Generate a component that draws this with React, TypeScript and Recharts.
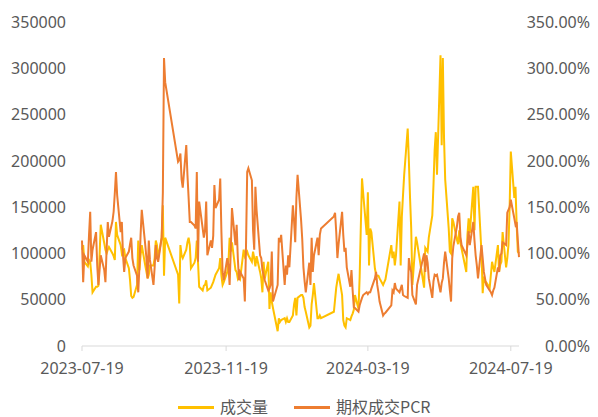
import React from 'react';
import { LineChart, Line, XAxis, YAxis, Legend } from 'recharts';

// ---- categories: trading days (weekdays minus exchange holidays) ----
const startDate = '2023-07-19';
const endDate = '2024-07-26';
const holidays = [
  '2023-09-29', '2023-10-02', '2023-10-03', '2023-10-04', '2023-10-05', '2023-10-06',
  '2024-01-01', '2024-02-09', '2024-02-12', '2024-02-13', '2024-02-14', '2024-02-15',
  '2024-02-16', '2024-04-04', '2024-04-05', '2024-05-01', '2024-05-02', '2024-05-03',
  '2024-06-10',
];
const xTickDates = ['2023-07-19', '2023-11-19', '2024-03-19', '2024-07-19'];
const volumeTicks = [0, 50000, 100000, 150000, 200000, 250000, 300000, 350000];
const pcrTicks = [0, 0.5, 1, 1.5, 2, 2.5, 3, 3.5];

// ---- series: 成交量 ----
const volume = [
  // 2023-07
  104000, 109000, 91000, 86000, 93000, 91000, 77000, 58000, 64000,
  // 2023-08
  64000, 65000, 98000, 131000, 111000, 104000, 100000, 104000, 107000, 100000, 97000, 93000,
  134000, 120000, 109000, 100000, 103000, 104000, 95000, 84000, 71000, 54000, 52000,
  // 2023-09
  53000, 66000, 114000, 82000, 98000, 109000, 87000, 80000, 73000, 77000, 87000, 87000,
  95000, 114000, 109000, 95000, 117000, 152000, 76000, 117000,
  // 2023-10
  77000, 46000, 109000, 98000, 95000, 104000, 112000, 117000, 109000, 84000, 90000, 95000,
  114000, 91000, 64000, 60000, 65000,
  // 2023-11
  66000, 71000, 60000, 63000, 66000, 69000, 73000, 77000, 84000, 95000, 76000, 66000,
  69000, 80000, 91000, 117000, 102000, 112000, 82000, 80000, 73000, 76000,
  // 2023-12
  73000, 104000, 97000, 100000, 102000, 98000, 91000, 102000, 95000, 86000, 97000, 80000,
  73000, 58000, 91000, 73000, 91000, 40000, 58000, 48000, 41000,
  // 2024-01
  16000, 30000, 26000, 28000, 30000, 26000, 30000, 26000, 26000, 33000, 45000, 52000,
  33000, 52000, 55000, 55000, 52000, 42000, 37000, 20000, 22000, 45000,
  // 2024-02
  55000, 68000, 30000, 30000, 33000, 30000, 37000, 50000, 63000, 71000, 78000, 55000,
  28000, 22000, 20000,
  // 2024-03
  30000, 28000, 32000, 35000, 39000, 55000, 40000, 75000, 130000, 181000, 165000, 120000,
  166000, 87000, 127000, 123000, 84000, 77000, 76000, 76000, 73000,
  // 2024-04
  66000, 69000, 72000, 109000, 95000, 102000, 87000, 98000, 156000, 87000, 140000, 163000,
  185000, 235000, 200000, 160000, 127000, 66000, 118000, 112000,
  // 2024-05
  63000, 106000, 104000, 102000, 117000, 141000, 174000, 212000, 231000, 185000, 314000,
  217000, 311000, 225000, 180000, 127000, 102000, 100000, 138000, 134000,
  // 2024-06
  115000, 110000, 125000, 112000, 105000, 80000, 120000, 138000, 122000, 172000, 125000,
  172000, 172000, 172000, 100000, 57000, 75000, 69000, 69000,
  // 2024-07
  63000, 77000, 91000, 85000, 80000, 109000, 80000, 88000, 91000, 123000, 85000, 95000,
  109000, 150000, 210000, 160000, 172000, 131000, 102000, 100000,
];

// ---- series: 期权成交PCR (ratio) ----
const pcr = [
  // 2023-07
  1.14, 0.69, 0.98, 0.91, 1.2, 1.45, 0.91, 1.04, 1.23,
  // 2023-08
  0.87, 0.66, 0.82, 0.98, 0.82, 0.69, 1.04, 1.34, 1.18, 1.35, 1.45, 1.65, 1.88, 1.63,
  1.23, 1.34, 0.98, 0.8, 0.95, 1.02, 1.1, 1.17, 0.95,
  // 2023-09
  0.87, 0.76, 0.58, 0.85, 1.2, 1.47, 1.09, 0.95, 0.73, 1.14, 0.93, 0.66, 0.85, 1.09,
  0.95, 0.91, 1.17, 1.65, 3.11, 2.85,
  // 2023-10
  1.99, 2.01, 2.08, 1.8, 1.71, 2.17, 1.85, 1.6, 1.34, 1.34, 1.3, 1.27, 1.88, 0.91,
  1.56, 1.27, 1.17,
  // 2023-11
  1.25, 1.56, 0.98, 1.14, 1.06, 1.19, 1.74, 1.49, 1.58, 1.81, 1.23, 0.8, 0.71, 0.95,
  0.87, 0.66, 1.04, 1.49, 1.09, 1.31, 0.95, 0.71,
  // 2023-12
  0.8, 0.73, 0.48, 1.09, 1.88, 1.92, 1.79, 1.25, 1.04, 1.72, 1.47, 0.98, 0.95, 0.82,
  0.77, 0.71, 0.6, 0.62, 0.66, 1.02, 0.48,
  // 2024-01
  0.66, 1.17, 1.12, 1.2, 0.66, 0.87, 0.77, 0.98, 0.85, 1.52, 1.35, 1.12, 1.6, 1.85,
  1.36, 1.15, 0.85, 0.7, 0.58, 0.9, 0.66, 1.17,
  // 2024-02
  0.8, 0.98, 1.17, 0.98, 1.2, 1.27, 1.4, 1.44, 1.23, 0.95, 1.1, 1.45, 1.2, 1.02, 1.06,
  // 2024-03
  0.85, 0.64, 0.82, 0.6, 0.42, 0.41, 0.37, 0.44, 0.48, 0.52, 0.55, 0.58, 0.56, 0.58,
  0.58, 0.62, 0.73, 0.8, 0.66, 0.58, 0.48,
  // 2024-04
  0.33, 0.35, 0.36, 0.44, 0.6, 0.58, 0.68, 0.62, 0.58, 0.62, 0.66, 0.55, 0.54, 0.52,
  0.95, 0.85, 0.8, 0.55, 0.45, 0.66,
  // 2024-05
  1.0, 0.8, 0.98, 0.9, 0.73, 0.52, 0.7, 0.77, 0.76, 0.77, 0.58, 0.68, 0.73, 0.9, 1.02,
  0.73, 0.6, 0.48, 0.95, 1.08,
  // 2024-06
  1.29, 1.4, 1.44, 1.18, 1.09, 0.98, 1.1, 1.24, 1.09, 1.34, 1.14, 0.98, 0.87, 0.73,
  1.09, 0.95, 0.8, 0.73, 0.66,
  // 2024-07
  0.6, 0.58, 0.55, 0.6, 0.63, 0.85, 0.8, 0.98, 1.0, 1.12, 1.09, 1.44, 1.47, 1.5, 1.58,
  1.38, 1.31, 1.34, 1.14, 0.96,
];

const DAY = 86400000;
const toTs = (s: string) => Date.parse(s + 'T00:00:00Z');
const fmtDate = (t: number) => {
  const d = new Date(t);
  return isNaN(d.getTime()) ? '' : d.toISOString().slice(0, 10);
};

function buildTradingDays(): string[] {
  const out: string[] = [];
  const hol = new Set(holidays);
  for (let t = toTs(startDate); t <= toTs(endDate); t += DAY) {
    const wd = new Date(t).getUTCDay();
    const s = fmtDate(t);
    if (wd === 0 || wd === 6 || hol.has(s)) continue;
    out.push(s);
  }
  return out;
}

const dates = buildTradingDays();
const n = Math.min(dates.length, volume.length, pcr.length);
const data = dates.slice(0, n).map((d, i) => ({ t: toTs(d), vol: volume[i], pcr: pcr[i] }));

const FONT = "'Noto Sans', 'Noto Sans CJK SC', sans-serif";
const TEXT = '#595959';
const YELLOW = '#FFC000';
const ORANGE = '#ED7D31';

const RightTick = (props: any) => {
  const { y, payload } = props;
  return (
    <text x={590} y={y} dy="0.355em" textAnchor="end" fill={TEXT} fontSize={16} fontFamily={FONT}>
      {(payload.value * 100).toFixed(2) + '%'}
    </text>
  );
};

const LegendContent = () => (
  <div style={{ position: 'relative', width: 598, height: 22, fontFamily: "'Noto Sans CJK SC', sans-serif", fontSize: 16, color: TEXT }}>
    <div style={{ position: 'absolute', left: 178, top: 10, width: 36, height: 2.5, background: YELLOW }} />
    <span style={{ position: 'absolute', left: 220, top: -1, lineHeight: '22px', whiteSpace: 'nowrap' }}>成交量</span>
    <div style={{ position: 'absolute', left: 294, top: 10, width: 36, height: 2.5, background: ORANGE }} />
    <span style={{ position: 'absolute', left: 336, top: -1, lineHeight: '22px', whiteSpace: 'nowrap' }}>期权成交PCR</span>
  </div>
);

export default function App() {
  return (
    <div style={{ position: 'absolute', left: 0, top: 0, width: 598, height: 417, background: '#fff', fontFamily: FONT }}>
      <LineChart width={598} height={417} data={data} margin={{ top: 22, right: 0, bottom: 41, left: 0 }}>
        <XAxis
          dataKey="t"
          type="number"
          domain={[toTs(startDate), toTs(endDate)]}
          ticks={xTickDates.map(toTs)}
          tickFormatter={(v: number) => fmtDate(v)}
          interval={0}
          stroke="#D9D9D9"
          tick={{ fill: TEXT, fontSize: 16 }}
          tickSize={5}
          tickMargin={12}
          height={30}
        />
        <YAxis
          yAxisId="left"
          domain={[0, 350000]}
          ticks={volumeTicks}
          interval={0}
          axisLine={false}
          tickLine={false}
          tickSize={0}
          tickMargin={16}
          width={82}
          tick={{ fill: TEXT, fontSize: 16 }}
        />
        <YAxis
          yAxisId="right"
          orientation="right"
          domain={[0, 3.5]}
          ticks={pcrTicks}
          interval={0}
          axisLine={false}
          tickLine={false}
          width={79}
          tick={<RightTick />}
        />
        <Legend
          verticalAlign="middle"
          align="center"
          layout="horizontal"
          wrapperStyle={{ position: 'absolute', top: 396, left: 0, width: 598, height: 22 }}
          content={() => <LegendContent />}
        />
        <Line yAxisId="left" type="linear" dataKey="vol" name="成交量" stroke={YELLOW} strokeWidth={2} dot={false} isAnimationActive={false} />
        <Line yAxisId="right" type="linear" dataKey="pcr" name="期权成交PCR" stroke={ORANGE} strokeWidth={2} dot={false} isAnimationActive={false} />
      </LineChart>
    </div>
  );
}
